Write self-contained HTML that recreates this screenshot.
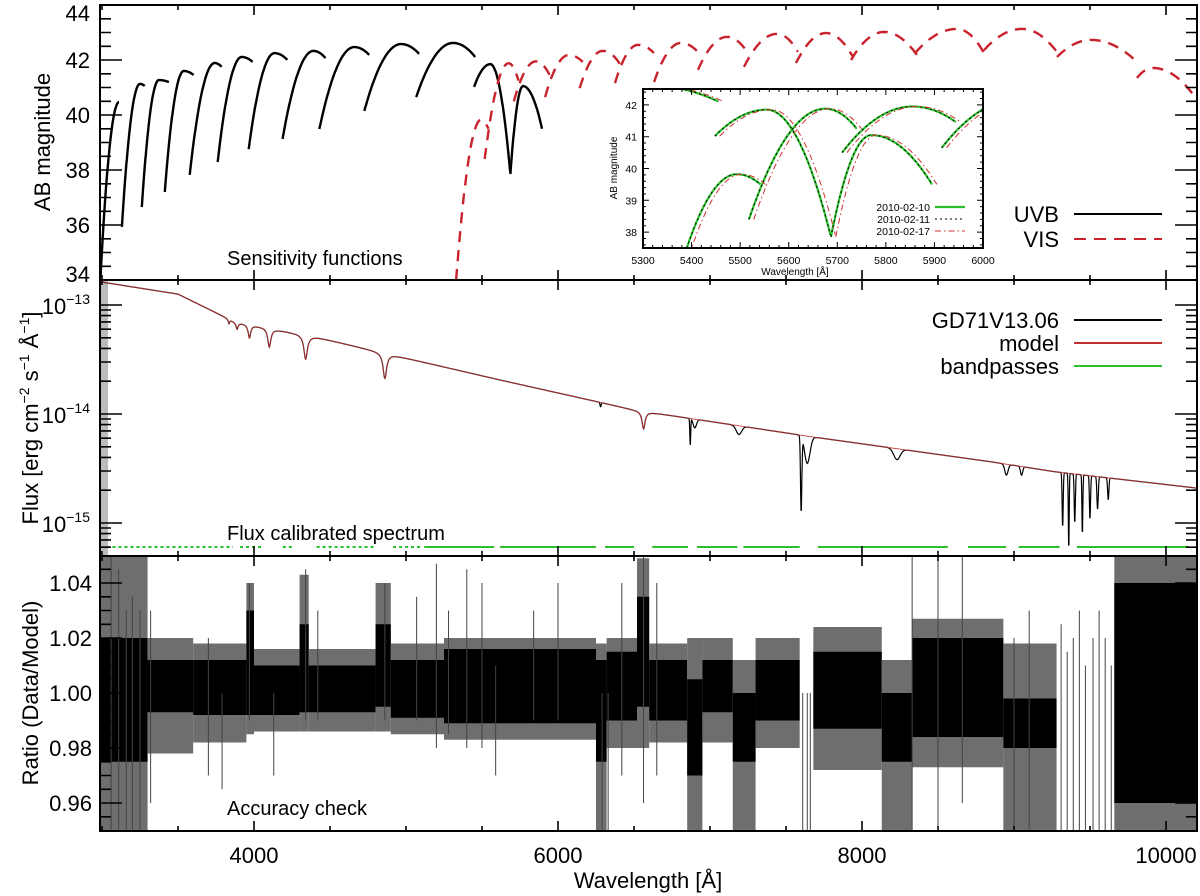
<!DOCTYPE html>
<html><head><meta charset="utf-8">
<style>
html,body{margin:0;padding:0;background:#fff;}
svg{display:block;font-family:"Liberation Sans",Arial,sans-serif;}
</style></head>
<body>
<svg id="fig" width="1200" height="896" viewBox="0 0 1200 896" xmlns="http://www.w3.org/2000/svg">
<defs>
<clipPath id="c1"><rect x="100" y="5" width="1097" height="275"/></clipPath>
<clipPath id="c2"><rect x="100" y="280" width="1097" height="276"/></clipPath>
<clipPath id="c3"><rect x="100" y="556" width="1097" height="275"/></clipPath>
<clipPath id="ci"><rect x="643" y="89" width="340" height="159"/></clipPath>
</defs>
</svg>
<script>
// ---------- sensitivity data (order: start wave, start mag, peak wave, peak mag, end wave, end mag)
const uvbWs=[2990,3131,3262,3413,3577,3761,3965,4188,4430,4726,5067,5448,5687];
const uvbMs=[34.1,35.93,36.65,37.2,37.82,38.29,38.76,39.13,39.49,40.15,40.65,41.02,37.85];
const uvbWp=[3112,3249,3374,3538,3741,3919,4135,4391,4660,4968,5310,5555,5770];
const uvbMp=[40.47,41.13,41.27,41.6,41.89,42.11,42.25,42.33,42.47,42.58,42.62,41.85,41.05];
const uvbWe=[3113,3282,3440,3604,3787,3991,4220,4470,4759,5087,5455,5687,5895];
const uvbMe=[40.47,41.05,41.2,41.45,41.75,41.93,42.0,42.07,42.18,42.22,42.11,37.85,39.5];
const visWs=[5330,5518,5710,5915,6143,6375,6632,6921,7224,7566,7928,8349,8803,9283,9809];
const visMs=[34.0,38.4,40.5,40.65,40.98,41.16,41.2,41.64,41.75,41.89,42.0,42.25,42.36,42.11,41.35];
const visWp=[5493,5675,5855,6071,6294,6527,6809,7112,7441,7763,8145,8625,9053,9507,9915];
const visMp=[39.82,41.88,41.95,42.18,42.33,42.55,42.62,42.84,42.95,42.98,43.02,43.13,43.13,42.73,41.71];
const visWe=[5542,5740,5945,6163,6412,6632,6921,7250,7579,7941,8362,8803,9283,9809,10217];
const visMe=[39.5,41.25,41.45,41.93,41.82,42.25,42.29,42.25,42.29,42.11,42.18,42.25,42.29,41.93,40.44];
const insetDates=["2010-02-10","2010-02-11","2010-02-17"];
const insetShift=[0,0,10];
// ---------- flux data
const contWave=[2987,3000,3500,3875,4425,4820,5100,5619,6500,7678,8856,9270,10204];
const contLogF=[-12.77,-12.79,-12.9,-13.156,-13.30,-13.43,-13.52,-13.688,-13.963,-14.211,-14.44,-14.53,-14.68];
const lineWave=[3835,3889,3970,4101,4340,4861,6563];
const lineDepth=[0.04,0.06,0.12,0.17,0.22,0.23,0.16];
const lineWidth=[6,8,10,12,14,14,12];
const tellWave=[6280,6870,6900,7190,7600,7640,8230,8950,9050,9320,9360,9400,9450,9500,9550,9620];
const tellDepth=[0.04,0.25,0.08,0.08,0.69,0.25,0.1,0.1,0.08,0.5,0.7,0.45,0.55,0.4,0.3,0.2];
const tellWidth=[5,4,15,25,6,25,30,15,10,5,4,5,4,5,6,6];
const bandStart=[2990,3908,4190,4412,4915,5120,5619,6310,6620,6915,7220,7710,8697,9030,9414];
const bandEnd=[3862,4060,4250,4807,5093,5580,6250,6500,6855,7180,7590,8565,8948,9300,10150];
const bandLevel=-15.22;
// ---------- ratio data
const segW0=[2987,3300,3600,3950,4000,4300,4360,4800,4900,5250,6250,6320,6520,6600,6850,6950,7150,7300,7680,8130,8330,8930,9660];
const segW1=[3300,3600,3950,4000,4300,4360,4800,4900,5250,6250,6320,6520,6600,6850,6950,7150,7300,7590,8130,8330,8930,9280,10204];
const coreLo=[0.975,0.993,0.992,0.992,0.992,0.993,0.993,0.995,0.991,0.989,0.975,0.99,0.995,0.99,0.97,0.993,0.975,0.99,0.987,0.975,0.984,0.98,0.96];
const coreHi=[1.02,1.012,1.012,1.03,1.010,1.025,1.010,1.025,1.012,1.016,1.012,1.015,1.035,1.012,1.005,1.012,1.0,1.012,1.015,1.0,1.02,0.998,1.04];
const envLo=[0.95,0.978,0.982,0.985,0.986,0.986,0.986,0.986,0.985,0.983,0.95,0.98,0.98,0.982,0.95,0.982,0.95,0.98,0.972,0.95,0.973,0.95,0.95];
const envHi=[1.05,1.02,1.018,1.04,1.016,1.043,1.016,1.04,1.018,1.02,1.018,1.02,1.049,1.018,1.02,1.02,1.012,1.02,1.024,1.012,1.027,1.018,1.05];
const spikeW=[3060,3110,3160,3200,3250,3320,3700,3790,3970,4130,4340,4420,4861,5070,5200,5280,5400,5500,5590,5840,6000,6290,6330,6420,6563,6650,7610,7640,7660,8330,8500,8660,9000,9100,9310,9350,9390,9430,9470,9520,9560,9600,9640];
const spikeLo=[0.95,0.95,0.95,0.95,0.95,0.96,0.97,0.965,0.99,0.97,0.99,0.99,0.99,0.99,0.98,0.985,0.98,0.98,0.97,0.99,0.99,0.95,0.95,0.97,0.96,0.97,0.95,0.95,0.95,0.95,0.95,0.96,0.95,0.95,0.95,0.95,0.95,0.95,0.95,0.95,0.95,0.95,0.95];
const spikeHi=[1.05,1.045,1.03,1.035,1.03,1.03,1.02,1.0,1.04,1.0,1.045,1.03,1.04,1.035,1.047,1.03,1.045,1.04,1.01,1.03,1.04,1.0,1.0,1.04,1.05,1.04,1.0,1.0,1.0,1.05,1.05,1.05,1.02,1.03,1.025,1.015,1.02,1.03,1.01,1.02,1.03,1.02,1.01];

// ---------- axes
const NS="http://www.w3.org/2000/svg";
const svg=document.getElementById('fig');
const XL=100,XR=1197,W0=2987,W1=10204;
function xS(w){return XL+(w-W0)*(XR-XL)/(W1-W0);}
function y1(m){return 5+(44-m)*27.5;}
function y2(lf){return 305+(-13-lf)*109;}
function y3(r){return 693+(1-r)*2750;}
function xi(w){return 643+(w-5300)*340/700;}
function yi(m){return 89+(42.5-m)*159/5;}
function mk(tag,attrs,parent){const e=document.createElementNS(NS,tag);for(const k in attrs)e.setAttribute(k,attrs[k]);(parent||svg).appendChild(e);return e;}
function orderPts(ws,ms,wp,mp,we,me,xf,yf,shift){
  const pts=[];
  for(let w=ws;w<=we;w+=2){
    let m;
    if(w<=wp){const t=(wp-ws)>0?(wp-w)/(wp-ws):0;m=mp-(mp-ms)*t*t;}
    else{const t=(w-wp)/(we-wp);m=mp-(mp-me)*t*t;}
    pts.push(xf(w+shift).toFixed(1)+','+yf(m).toFixed(1));
  }
  return pts.join(' ');
}
function interp(xs,ys,x){if(x<=xs[0])return ys[0];for(let i=1;i<xs.length;i++){if(x<=xs[i]){const t=(x-xs[i-1])/(xs[i]-xs[i-1]);return ys[i-1]+t*(ys[i]-ys[i-1]);}}return ys[ys.length-1];}
function modelLogF(w){let f=interp(contWave,contLogF,w);for(let i=0;i<lineWave.length;i++){const d=(w-lineWave[i])/lineWidth[i];f-=lineDepth[i]/(1+d*d);}return f;}
function obsLogF(w){let f=modelLogF(w);for(let i=0;i<tellWave.length;i++){const d=(w-tellWave[i])/tellWidth[i];f-=tellDepth[i]*Math.exp(-d*d);}return f;}

// ===== panel 1
const g1=mk('g',{'clip-path':'url(#c1)'});


for(let i=0;i<uvbWs.length;i++){
  const p=mk('polyline',{points:orderPts(uvbWs[i],uvbMs[i],uvbWp[i],uvbMp[i],uvbWe[i],uvbMe[i],xS,y1,0),fill:'none',stroke:'#000','stroke-width':2.4},g1);
  
  
}
for(let i=0;i<visWs.length;i++){
  const p=mk('polyline',{points:orderPts(visWs[i],visMs[i],visWp[i],visMp[i],visWe[i],visMe[i],xS,y1,0),fill:'none',stroke:'#c8232c','stroke-width':2.4,'stroke-dasharray':'11,8'},g1);
  
  
}
// ===== panel 2
const g2=mk('g',{'clip-path':'url(#c2)'});


let edge=mk('rect',{x:xS(2990),y:280,width:xS(3040)-xS(2990),height:276,fill:'#bbb'},g2);


let op=[],mp=[];
for(let w=W0;w<=W1;w+=2){op.push(xS(w).toFixed(1)+','+y2(obsLogF(w)).toFixed(1));mp.push(xS(w).toFixed(1)+','+y2(modelLogF(w)).toFixed(1));}
const obs=mk('polyline',{points:op.join(' '),fill:'none',stroke:'#000','stroke-width':1.2},g2);


const mod=mk('polyline',{points:mp.join(' '),fill:'none',stroke:'#c03030','stroke-width':0.8},g2);


for(let i=0;i<bandStart.length;i++){
  const b=mk('line',{x1:xS(bandStart[i]),x2:xS(bandEnd[i]),y1:y2(bandLevel),y2:y2(bandLevel),stroke:'#2cc02c','stroke-width':2,'stroke-dasharray':i<5?'3,3':'none'},g2);
  
  
}
// ===== panel 3
const g3=mk('g',{'clip-path':'url(#c3)'});


for(let i=0;i<segW0.length;i++){
  const e=mk('rect',{x:xS(segW0[i]),width:xS(segW1[i])-xS(segW0[i]),y:y3(envHi[i]),height:y3(envLo[i])-y3(envHi[i]),fill:'#6e6e6e'},g3);
  
  
  const c=mk('rect',{x:xS(segW0[i]),width:xS(segW1[i])-xS(segW0[i]),y:y3(coreHi[i]),height:y3(coreLo[i])-y3(coreHi[i]),fill:'#000'},g3);
  
  
}
for(let i=0;i<spikeW.length;i++){
  const s=mk('line',{x1:xS(spikeW[i]),x2:xS(spikeW[i]),y1:y3(spikeLo[i]),y2:y3(spikeHi[i]),stroke:'#444','stroke-width':1},g3);
  
  
}

// ===== frames & ticks
function frame(y0,y1_,name){const r=mk('rect',{x:XL,y:y0,width:XR-XL,height:y1_-y0,fill:'none',stroke:'#000','stroke-width':2});}
frame(5,280,'sensitivity-frame');frame(280,556,'flux-frame');frame(556,831,'ratio-frame');
const tk=[];
function tick(x1,y1_,x2,y2_){tk.push('M'+x1.toFixed(1)+' '+y1_.toFixed(1)+'L'+x2.toFixed(1)+' '+y2_.toFixed(1));}
[[5,280],[280,556],[556,831]].forEach(([t,b])=>{
  for(let w=3000;w<=10200;w+=500){const x=xS(w);const L=(w%2000===0)?10:5;tick(x,b,x,b-L);tick(x,t,x,t+L);}
});
for(let m=34;m<=44;m+=0.5){const y=y1(m);const L=(m%2===0)?22:11;tick(XL,y,XL+L,y);tick(XR,y,XR-L,y);}
for(let d=-16;d<=-12;d++){for(let k=1;k<10;k++){const lf=d+Math.log10(k);const y=y2(lf);if(y<281||y>555)continue;const L=k===1?22:11;tick(XL,y,XL+L,y);tick(XR,y,XR-L,y);}}
for(let r=95;r<=105;r+=0.5){const v=r/100;const y=y3(v);if(y<557||y>830)continue;const L=(Math.round(r*10)%20===0)?22:11;tick(XL,y,XL+L,y);tick(XR,y,XR-L,y);}
const tp=mk('path',{d:tk.join(''),stroke:'#000','stroke-width':1.6,fill:'none'});



function txt(x,y,s,size,anchor,name,extra){const t=mk('text',Object.assign({x:x,y:y,'font-size':size,'text-anchor':anchor||'start',fill:'#000'},extra||{}));t.textContent=s;return t;}
const yt1=[34,36,38,40,42,44];
for(const m of yt1){let y=y1(m)+8;if(m===44)y=21;if(m===34)y=282;txt(90,y,String(m),22,'end','y-tick-label-mag');}
const yt2=[-13,-14,-15];
for(const d of yt2){const t=txt(90,y2(d)+9,'10',22,'end','y-tick-label-flux');const ts=mk('tspan',{dy:-10,'font-size':14},t);ts.textContent='−'+(-d);}
const yt3=[0.96,0.98,1.00,1.02,1.04];
for(const r of yt3){txt(92,y3(r)+8,r.toFixed(2),22,'end','y-tick-label-ratio');}
const xt=[4000,6000,8000,10000];
for(const w of xt){txt(xS(w),863,String(w),22,'middle','x-tick-label');}
txt(648,888,'Wavelength [Å]',22,'middle','x-axis-title');
txt(50,142,'AB magnitude',22,'middle','y-axis-title-mag',{transform:'rotate(-90 50 142)'});
const ft=txt(38,418,'Flux [erg cm',22,'middle','y-axis-title-flux',{transform:'rotate(-90 38 418)'});
ft.textContent='';
[['Flux [erg cm',0],['−2',-9],[' s',9],['−1',-9],[' Å',9],['−1',-9],[']',9]].forEach(([s,dy],i)=>{const sp=mk('tspan',{dy:dy,'font-size':(s[0]==='−')?14:22},ft);sp.textContent=s;});
txt(38,693,'Ratio (Data/Model)',22,'middle','y-axis-title-ratio',{transform:'rotate(-90 38 693)'});
txt(227,265,'Sensitivity functions',20,'start','panel-label-sensitivity');
txt(227,540,'Flux calibrated spectrum',20,'start','panel-label-flux');
txt(227,815,'Accuracy check',20,'start','panel-label-accuracy');

// legends
function legend(label,y,stroke,dash,name){txt(1059,y+8,label,22,'end',name+'-label');const l=mk('line',{x1:1074,x2:1162,y1:y,y2:y,stroke:stroke,'stroke-width':2,'stroke-dasharray':dash||'none'});}
legend('UVB',214,'#000','','legend-uvb');
legend('VIS',239,'#c8232c','12,8','legend-vis');
legend('GD71V13.06',320,'#000','','legend-observed');
legend('model',343,'#c03030','','legend-model');
legend('bandpasses',366,'#2cc02c','','legend-bandpasses');

// ===== inset
const ib=mk('rect',{x:643,y:89,width:340,height:159,fill:'#fff',stroke:'none'});


const gi=mk('g',{'clip-path':'url(#ci)'});


const insetStyles=[{stroke:'#2cc02c','stroke-width':2.2},{stroke:'#000','stroke-width':1,'stroke-dasharray':'2,3'},{stroke:'#d03030','stroke-width':1,'stroke-dasharray':'6,3,1.5,3'}];
for(let d=0;d<insetDates.length;d++){
  const all=[[uvbWs,uvbMs,uvbWp,uvbMp,uvbWe,uvbMe],[visWs,visMs,visWp,visMp,visWe,visMe]];
  for(const A of all){for(let i=0;i<A[0].length;i++){if(A[4][i]<5250||A[0][i]>6050)continue;
    const p=mk('polyline',Object.assign({points:orderPts(A[0][i],A[1][i],A[2][i],A[3][i],A[4][i],A[5][i],xi,yi,insetShift[d]),fill:'none'},insetStyles[d]),gi);
    
    }}
}
const ifr=mk('rect',{x:643,y:89,width:340,height:159,fill:'none',stroke:'#000','stroke-width':2});


const itk=[];
for(let w=5300;w<=6000;w+=20){const x=xi(w);const L=(w%100===0)?6:3;itk.push('M'+x+' 248L'+x+' '+(248-L)+'M'+x+' 89L'+x+' '+(89+L));}
for(let m=37.6;m<=42.5;m+=0.2){const y=yi(m);const L=(Math.abs(m-Math.round(m))<0.01)?6:3;itk.push('M643 '+y+'L'+(643+L)+' '+y+'M983 '+y+'L'+(983-L)+' '+y);}
const itp=mk('path',{d:itk.join(''),stroke:'#000','stroke-width':1,fill:'none'});


const ixt=[5300,5400,5500,5600,5700,5800,5900,6000];
for(const w of ixt)txt(xi(w),264,String(w),10.5,'middle','inset-x-tick-label');
const iyt=[38,39,40,41,42];
for(const m of iyt)txt(637,yi(m)+4,String(m),10.5,'end','inset-y-tick-label');
txt(795,275,'Wavelength [Å]',10,'middle','inset-x-axis-title');
txt(617,168,'AB magnitude',10,'middle','inset-y-axis-title',{transform:'rotate(-90 617 168)'});
const ilab=[['2010-02-10',207],['2010-02-11',219],['2010-02-17',231]];
for(let d=0;d<3;d++){
  txt(930,ilab[d][1]+4,ilab[d][0],10.5,'end','inset-legend-label');
  const l=mk('line',Object.assign({x1:935,x2:965,y1:ilab[d][1],y2:ilab[d][1]},insetStyles[d]));
  
  
}
</script>
</body></html>
